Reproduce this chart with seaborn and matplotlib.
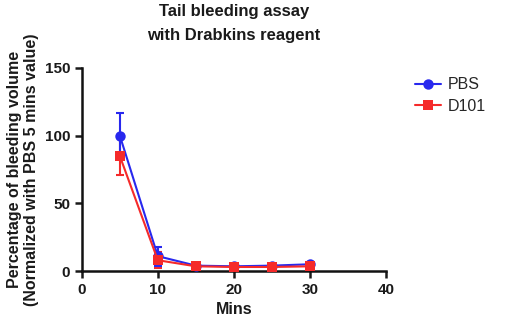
import matplotlib
matplotlib.use('Agg')
import matplotlib.pyplot as plt
import seaborn as sns
import pandas as pd

# Dados
mins = [5, 10, 15, 20, 25, 30]
pbs_mean = [100, 11, 4, 3.5, 4, 5]
pbs_err = [16.5, 7, 1, 0.8, 0.8, 1]
d101_mean = [85, 8, 3.5, 3, 3, 3.5]
d101_err = [14, 6, 0.8, 0.8, 0.8, 0.8]

sns.set_style('ticks')
plt.rcParams['font.family'] = ['Liberation Sans', 'DejaVu Sans']

df = pd.DataFrame({
    'Mins': mins * 2,
    'valor': pbs_mean + d101_mean,
    'grupo': ['PBS'] * len(mins) + ['D101'] * len(mins),
})

cores = {'PBS': '#2828EE', 'D101': '#F52A2A'}

fig = plt.figure(figsize=(5.05, 3.25), dpi=100)
ax = fig.add_axes([0.162, 0.166, 0.602, 0.625])

# D101 primeiro, PBS por cima
ax.errorbar(mins, d101_mean, yerr=d101_err, fmt='none', ecolor=cores['D101'],
            elinewidth=1.5, capsize=3, capthick=1.5, zorder=2)
ax.errorbar(mins, pbs_mean, yerr=pbs_err, fmt='none', ecolor=cores['PBS'],
            elinewidth=1.5, capsize=3, capthick=1.5, zorder=3)
sns.lineplot(data=df, x='Mins', y='valor', hue='grupo', style='grupo',
             hue_order=['PBS', 'D101'], style_order=['PBS', 'D101'],
             palette=cores, markers={'PBS': 'o', 'D101': 's'}, dashes=False,
             markersize=7.5, markeredgewidth=0, linewidth=1.5, ax=ax, zorder=4)

ax.set_xlim(0, 40)
ax.set_ylim(0, 150)
ax.set_xticks([0, 10, 20, 30, 40])
ax.set_yticks([0, 50, 100, 150])
ax.set_title('Tail bleeding assay\nwith Drabkins reagent', fontsize=12,
             fontweight='bold', color='#1a1a1a', pad=20, linespacing=1.75)
ax.set_xlabel('Mins', fontsize=11.5, fontweight='bold', color='#1a1a1a')
ax.set_ylabel('Percentage of bleeding volume\n(Normalized with PBS 5 mins value)',
              fontsize=11.5, fontweight='bold', color='#1a1a1a')
ax.tick_params(labelsize=11, width=1.8, length=5, colors='#1a1a1a')
for lbl in ax.get_xticklabels() + ax.get_yticklabels():
    lbl.set_fontweight('bold')
for s in ['left', 'bottom']:
    ax.spines[s].set_linewidth(1.8)
    ax.spines[s].set_color('#111111')
sns.despine(ax=ax)

leg = ax.legend(loc='upper left', bbox_to_anchor=(1.05, 1.025), frameon=False,
                fontsize=11.5, handlelength=1.6, handletextpad=0.4,
                labelspacing=0.4)
leg.set_title(None)

plt.savefig('out.png', dpi=100)
